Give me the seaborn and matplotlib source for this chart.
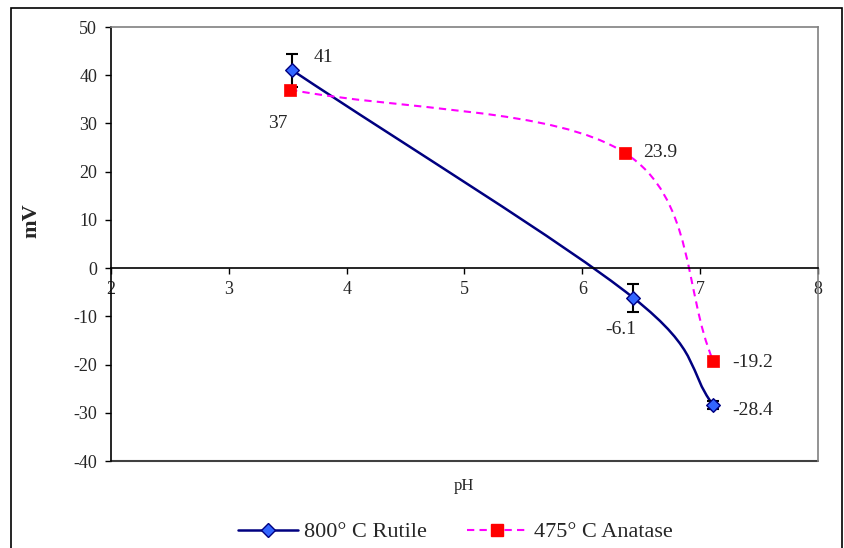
import numpy as np
import pandas as pd
import seaborn as sns
import matplotlib
import matplotlib.pyplot as plt
from matplotlib.path import Path
from matplotlib.patches import PathPatch, Rectangle
from matplotlib.lines import Line2D

matplotlib.use("Agg")

# data
rutile_ph = [3.54, 6.43, 7.11]
rutile_mv = [41.0, -6.1, -28.4]
rutile_err = [3.4, 2.9, 0.8]
anatase_ph = [3.52, 6.36, 7.11]
anatase_mv = [37.0, 23.9, -19.2]
rutile_label = "800° C Rutile"
anatase_label = "475° C Anatase"
x_ticks = [2, 3, 4, 5, 6, 7, 8]
y_ticks = [-40, -30, -20, -10, 0, 10, 20, 30, 40, 50]

# label offsets in points (dx, dy) and alignment
rutile_offsets = [(22, 9, "center"), (-9, -23, "center"), (14, -4, "left")]
anatase_offsets = [(-9, -24, "center"), (13, 0, "left"), (14, -1, "left")]

NAVY = "#000080"
BLUE = "#3366FF"
MAGENTA = "#FF00FF"
RED = "#FF0000"


def smooth_path(xs, ys):
    """Excel style smoothed line: cubic Bezier through the points."""
    pts = np.column_stack([xs, ys]).astype(float)
    n = len(pts)
    tang = []
    for i in range(n):
        if i == 0:
            tang.append(pts[1] - pts[0])
        elif i == n - 1:
            tang.append(pts[-1] - pts[-2])
        else:
            tang.append((pts[i + 1] - pts[i - 1]) / 2)
    verts = [pts[0]]
    codes = [Path.MOVETO]
    for i in range(n - 1):
        verts += [pts[i] + tang[i] / 3, pts[i + 1] - tang[i + 1] / 3, pts[i + 1]]
        codes += [Path.CURVE4] * 3
    return Path(verts, codes)


sns.set_style("white")
plt.rcParams["font.family"] = ["Liberation Serif", "DejaVu Serif"]
plt.rcParams["axes.unicode_minus"] = False

fig = plt.figure(figsize=(8.45, 5.48), dpi=100)
ax = fig.add_axes([111 / 845, 87 / 548, 707 / 845, 434 / 548])

df_r = pd.DataFrame({"pH": rutile_ph, "mV": rutile_mv})
df_a = pd.DataFrame({"pH": anatase_ph, "mV": anatase_mv})

# smoothed lines
ax.add_patch(PathPatch(smooth_path(rutile_ph, rutile_mv), fill=False,
                       edgecolor=NAVY, lw=1.8, zorder=2))
ax.add_patch(PathPatch(smooth_path(anatase_ph, anatase_mv), fill=False,
                       edgecolor=MAGENTA, lw=1.5, linestyle=(0, (3.5, 2.5)), zorder=2))

# error bars for rutile
ax.errorbar(rutile_ph, rutile_mv, yerr=rutile_err, fmt="none", ecolor="black",
            elinewidth=1.5, capsize=4, capthick=1.5, zorder=3)

# markers
sns.scatterplot(data=df_a, x="pH", y="mV", marker="s", s=85, color=RED,
                edgecolor=RED, linewidth=0.5, ax=ax, zorder=4)
sns.scatterplot(data=df_r, x="pH", y="mV", marker="D", s=48, color=BLUE,
                edgecolor=NAVY, linewidth=1, ax=ax, zorder=5)

# data labels
for x, y, (dx, dy, ha) in zip(rutile_ph, rutile_mv, rutile_offsets):
    ax.annotate(f"{y:g}", (x, y), xytext=(dx, dy), textcoords="offset points",
                ha=ha, va="center", fontsize=14)
for x, y, (dx, dy, ha) in zip(anatase_ph, anatase_mv, anatase_offsets):
    ax.annotate(f"{y:g}", (x, y), xytext=(dx, dy), textcoords="offset points",
                ha=ha, va="center", fontsize=14)

ax.set_xlim(2, 8)
ax.set_ylim(-40, 50)
ax.set_xticks(x_ticks)
ax.set_yticks(y_ticks)

# x axis crosses at 0
ax.spines["bottom"].set_position(("data", 0))
ax.spines["bottom"].set_color("black")
ax.spines["left"].set_color("black")
ax.spines["top"].set_color("#808080")
ax.spines["right"].set_color("#808080")
for s in ax.spines.values():
    s.set_linewidth(1.2)
ax.axhline(-40, color="#404040", lw=1.5, zorder=1, clip_on=False)

ax.tick_params(axis="both", direction="out", length=4, width=1, color="black",
               labelsize=13, bottom=True, left=True)
ax.tick_params(axis="y", pad=6)
ax.tick_params(axis="x", pad=5)

ax.set_xlabel("pH", fontsize=12)
ax.xaxis.set_label_coords(0.499, -0.04)
ax.set_ylabel("mV", fontsize=16, fontweight="bold")
ax.yaxis.set_label_coords(-0.098, 0.555)

handles = [
    Line2D([], [], color=NAVY, lw=1.8, marker="D", markersize=7,
           markerfacecolor=BLUE, markeredgecolor=NAVY),
    Line2D([], [], color=MAGENTA, lw=1.5, linestyle=(0, (3.5, 2.5)), marker="s",
           markersize=9, markerfacecolor=RED, markeredgecolor=RED),
]
fig.legend(handles, [rutile_label, anatase_label], loc="center",
           bbox_to_anchor=(455 / 845, 1 - 532 / 548), ncol=2, frameon=False,
           fontsize=16, handlelength=2.7, handletextpad=0.3, columnspacing=1.8)

# chart area border
fig.patches.append(Rectangle((11 / 845, -0.05), 831 / 845, 1.05 - 8 / 548,
                             transform=fig.transFigure, fill=False,
                             edgecolor="black", lw=1.2))

plt.savefig("out.png", dpi=100)
plt.close()
